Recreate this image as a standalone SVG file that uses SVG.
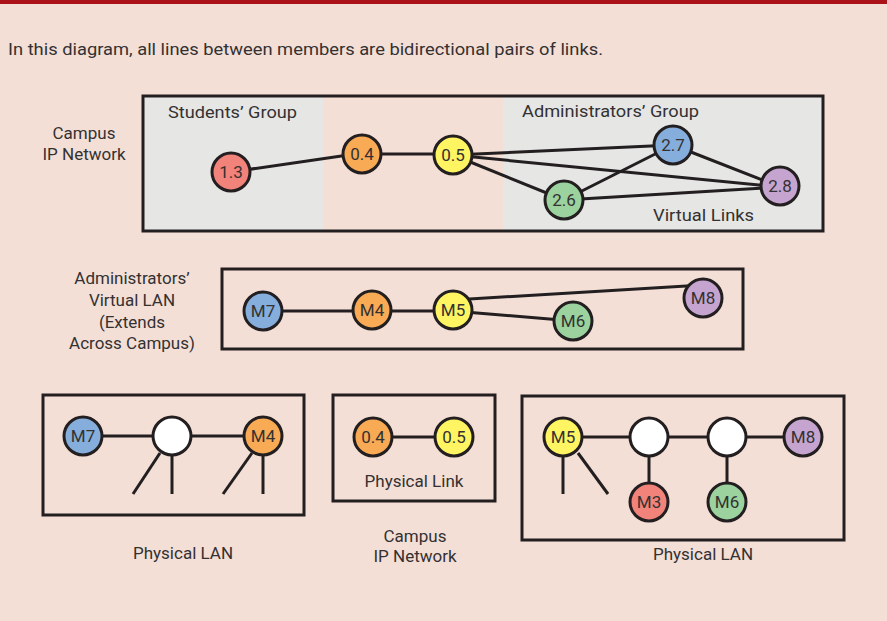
<svg xmlns="http://www.w3.org/2000/svg" width="887" height="621" viewBox="0 0 887 621">
<style>
text{font-family:Roboto,"Liberation Sans",sans-serif;fill:#333132;font-size:17px}
.c{text-anchor:middle}
.n text{text-anchor:middle;font-size:17px}
.n circle{stroke:#231f20;stroke-width:3}
.box{fill:none;stroke:#231f20;stroke-width:3}
.e line{stroke:#231f20;stroke-width:3;stroke-linecap:butt}
.red{fill:#f2837a}.org{fill:#f8aa55}.yel{fill:#fff462}.blu{fill:#86aedc}.grn{fill:#9bd29d}.pur{fill:#c5a5d0}.wht{fill:#ffffff}
</style>
<rect width="887" height="621" fill="#f4dfd6"/>
<rect width="887" height="4" fill="#aa1118"/>
<text x="8" y="55" textLength="595" lengthAdjust="spacingAndGlyphs">In this diagram, all lines between members are bidirectional pairs of links.</text>

<!-- Panel 1 -->
<rect x="143" y="96" width="180" height="135" fill="#e6e6e4"/>
<rect x="503" y="96" width="320" height="135" fill="#e6e6e4"/>
<rect class="box" x="143" y="96" width="680" height="135"/>
<text x="168" y="118" textLength="129" lengthAdjust="spacingAndGlyphs">Students’ Group</text>
<text x="522" y="117" textLength="177" lengthAdjust="spacingAndGlyphs">Administrators’ Group</text>
<text x="653" y="221" textLength="101" lengthAdjust="spacingAndGlyphs">Virtual Links</text>
<text class="c" x="84" y="139">Campus</text>
<text class="c" x="84" y="160">IP Network</text>

<!-- Panel 2 labels -->
<text class="c" x="132" y="284">Administrators’</text>
<text class="c" x="132" y="306">Virtual LAN</text>
<text class="c" x="132" y="328">(Extends</text>
<text class="c" x="132" y="349">Across Campus)</text>
<rect class="box" x="222" y="269" width="521" height="80"/>

<!-- Bottom boxes -->
<rect class="box" x="43" y="395" width="261" height="120"/>
<text class="c" x="183" y="559">Physical LAN</text>
<rect class="box" x="333" y="395" width="162" height="106"/>
<text class="c" x="414" y="487">Physical Link</text>
<text class="c" x="415" y="542">Campus</text>
<text class="c" x="415" y="562">IP Network</text>
<rect class="box" x="522" y="396" width="322" height="144"/>
<text class="c" x="703" y="560">Physical LAN</text>

<g id="connectors" class="e">
<line x1="231" y1="172" x2="362" y2="153"/>
<line x1="362" y1="154" x2="453" y2="154"/>
<line x1="453" y1="155" x2="673" y2="145"/>
<line x1="453" y1="155" x2="780" y2="187"/>
<line x1="453" y1="155" x2="564" y2="200"/>
<line x1="564" y1="200" x2="673" y2="145"/>
<line x1="673" y1="145" x2="780" y2="187"/>
<line x1="564" y1="200" x2="780" y2="187"/>
<line x1="263" y1="311" x2="372" y2="311"/>
<line x1="372" y1="311" x2="453" y2="311"/>
<line x1="453" y1="300" x2="703" y2="285"/>
<line x1="453" y1="311" x2="573" y2="321"/>
<line x1="83" y1="436" x2="263" y2="436"/>
<line x1="172" y1="436" x2="172" y2="494"/>
<line x1="160" y1="453" x2="133" y2="494"/>
<line x1="263" y1="436" x2="263" y2="494"/>
<line x1="252" y1="453" x2="223" y2="494"/>
<line x1="373" y1="437" x2="454" y2="437"/>
<line x1="563" y1="437" x2="803" y2="437"/>
<line x1="563" y1="437" x2="563" y2="494"/>
<line x1="578" y1="453" x2="608" y2="494"/>
<line x1="649" y1="437" x2="649" y2="502"/>
<line x1="727" y1="437" x2="727" y2="502"/>
</g>

<g id="n13" class="n"><circle class="red" cx="231" cy="172" r="19"/><text x="231" y="178">1.3</text></g>
<g id="n04" class="n"><circle class="org" cx="362" cy="154" r="19"/><text x="362" y="160">0.4</text></g>
<g id="n05" class="n"><circle class="yel" cx="453" cy="155" r="19"/><text x="453" y="161">0.5</text></g>
<g id="n27" class="n"><circle class="blu" cx="673" cy="145" r="19"/><text x="673" y="151">2.7</text></g>
<g id="n28" class="n"><circle class="pur" cx="780" cy="186" r="19"/><text x="780" y="192">2.8</text></g>
<g id="n26" class="n"><circle class="grn" cx="564" cy="200" r="19"/><text x="564" y="206">2.6</text></g>

<g id="vM7" class="n"><circle class="blu" cx="263" cy="311" r="19"/><text x="263" y="317">M7</text></g>
<g id="vM4" class="n"><circle class="org" cx="372" cy="310" r="19"/><text x="372" y="316">M4</text></g>
<g id="vM5" class="n"><circle class="yel" cx="453" cy="310" r="19"/><text x="453" y="316">M5</text></g>
<g id="vM8" class="n"><circle class="pur" cx="703" cy="298" r="19"/><text x="703" y="304">M8</text></g>
<g id="vM6" class="n"><circle class="grn" cx="573" cy="321" r="19"/><text x="573" y="327">M6</text></g>

<g id="pM7" class="n"><circle class="blu" cx="83" cy="436" r="19"/><text x="83" y="442">M7</text></g>
<g id="pW1" class="n"><circle class="wht" cx="172" cy="436" r="19"/></g>
<g id="pM4" class="n"><circle class="org" cx="263" cy="436" r="19"/><text x="263" y="442">M4</text></g>

<g id="p04" class="n"><circle class="org" cx="373" cy="437" r="19"/><text x="373" y="443">0.4</text></g>
<g id="p05" class="n"><circle class="yel" cx="454" cy="437" r="19"/><text x="454" y="443">0.5</text></g>

<g id="pM5" class="n"><circle class="yel" cx="563" cy="437" r="19"/><text x="563" y="443">M5</text></g>
<g id="pW2" class="n"><circle class="wht" cx="649" cy="437" r="19"/></g>
<g id="pW3" class="n"><circle class="wht" cx="727" cy="437" r="19"/></g>
<g id="pM8" class="n"><circle class="pur" cx="803" cy="437" r="19"/><text x="803" y="443">M8</text></g>
<g id="pM3" class="n"><circle class="red" cx="649" cy="502" r="19"/><text x="649" y="508">M3</text></g>
<g id="pM6" class="n"><circle class="grn" cx="727" cy="502" r="19"/><text x="727" y="508">M6</text></g>
</svg>
